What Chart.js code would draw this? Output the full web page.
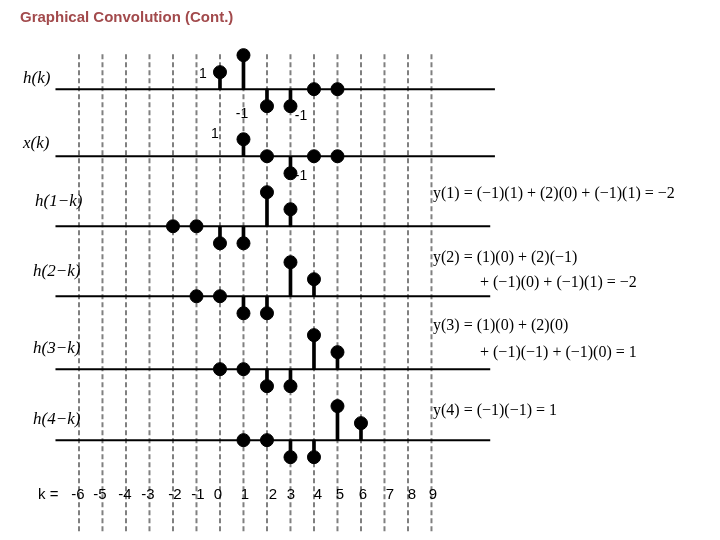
<!DOCTYPE html>
<html><head><meta charset="utf-8">
<script src="https://cdn.jsdelivr.net/npm/chart.js@4"></script>
<style>html,body{margin:0;padding:0;background:#fff}#c{display:block}</style>
</head><body>
<div style="width:720px;height:540px"><canvas id="c"></canvas></div>
<script>
// k tick labels
const kTicks = [-6,-5,-4,-3,-2,-1,0,1,2,3,4,5,6,7,8,9];
// row names
const rowLabels = ["h(k)","x(k)","h(1\u2212k)","h(2\u2212k)","h(3\u2212k)","h(4\u2212k)"];
// sequences: k positions and values per row
const hK   = [0,1,2,3,4,5],    hV   = [1,2,-1,-1,0,0];
const xK   = [1,2,3,4,5],      xV   = [1,0,-1,0,0];
const h1K  = [-2,-1,0,1,2,3],  h1V  = [0,0,-1,-1,2,1];
const h2K  = [-1,0,1,2,3,4],   h2V  = [0,0,-1,-1,2,1];
const h3K  = [0,1,2,3,4,5],    h3V  = [0,0,-1,-1,2,1];
const h4K  = [1,2,3,4,5,6],    h4V  = [0,0,-1,-1,2,1];
const equations = [
  ["y(1) = (\u22121)(1) + (2)(0) + (\u22121)(1) = \u22122"],
  ["y(2) = (1)(0) + (2)(\u22121)", "+ (\u22121)(0) + (\u22121)(1) = \u22122"],
  ["y(3) = (1)(0) + (2)(0)", "+ (\u22121)(\u22121) + (\u22121)(0) = 1"],
  ["y(4) = (\u22121)(\u22121) = 1"]
];

// layout (units of one sample amplitude)
const U = 17.5;
const baselines = [84,153,225,297,372,445].map(p=>p/U);
const rows = [[hK,hV],[xK,xV],[h1K,h1V],[h2K,h2V],[h3K,h3V],[h4K,h4V]];
const axisEnds = [[-7,11.7],[-7,11.7],[-7,11.5],[-7,11.5],[-7,11.5],[-7,11.5]];

const datasets = [];
kTicks.forEach(k=>{
  datasets.push({type:'line',order:5,data:[{x:k,y:48/U},{x:k,y:540/U}],borderColor:'#808080',borderWidth:2,borderDash:[5,3],pointRadius:0});
});
rows.forEach((r,i)=>{
  const b = baselines[i];
  datasets.push({type:'line',order:4,data:[{x:axisEnds[i][0],y:b},{x:axisEnds[i][1],y:b}],borderColor:'#000',borderWidth:2,pointRadius:0});
  datasets.push({type:'bar',order:3,grouped:false,data:r[0].map((k,j)=>({x:k,y:[b,b-r[1][j]]})),backgroundColor:'#000',barThickness:3,borderSkipped:false});
  datasets.push({type:'scatter',order:1,data:r[0].map((k,j)=>({x:k,y:b-r[1][j]})),backgroundColor:'#000',borderColor:'#000',pointRadius:6.5});
});

const textPlugin = {id:'txt',afterDraw(c){
  const ctx=c.ctx; ctx.save(); ctx.textBaseline='middle';
  ctx.fillStyle='#a24a4c'; ctx.font='bold 15px "Liberation Sans", Arial';
  ctx.textAlign='left'; ctx.fillText('Graphical Convolution (Cont.)',20,18);
  ctx.fillStyle='#000'; ctx.font='italic 17px "Liberation Serif", serif';
  const lp=[[23,79],[23,144],[35,202],[33,272],[33,349],[33,420]];
  rowLabels.forEach((t,i)=>ctx.fillText(t,lp[i][0],lp[i][1]));
  ctx.font='14px "Liberation Sans", Arial'; ctx.textAlign='center';
  [['1',203,74],['-1',242,114],['-1',301,116],['1',215,134],['-1',301,176]].forEach(a=>ctx.fillText(a[0],a[1],a[2]));
  ctx.font='16px "Liberation Serif", serif'; ctx.textAlign='left';
  const ep=[[433,194],[433,258,480,283],[433,326,480,353],[433,411]];
  equations.forEach((e,i)=>{ctx.fillText(e[0],ep[i][0],ep[i][1]); if(e[1]) ctx.fillText(e[1],ep[i][2],ep[i][3]);});
  ctx.font='15px "Liberation Sans", Arial'; ctx.textAlign='left';
  ctx.fillText('k =',38,495);
  ctx.textAlign='center';
  const lx=[78,100,125,148,175,198,218,245,273,291,318,340,363,390,412,433];
  kTicks.forEach((k,i)=>ctx.fillText(String(k),lx[i],495));
  ctx.restore();
}};

new Chart(document.getElementById('c'),{
  data:{datasets},
  options:{responsive:true,maintainAspectRatio:false,animation:false,
    layout:{padding:0},
    plugins:{legend:{display:false},tooltip:{enabled:false}},
    scales:{
      x:{type:'linear',display:false,min:-6-73/24,max:-6+647/24,offset:false},
      y:{type:'linear',display:false,reverse:true,min:0,max:540/U}
    }},
  plugins:[textPlugin]
});
</script>
</body></html>
